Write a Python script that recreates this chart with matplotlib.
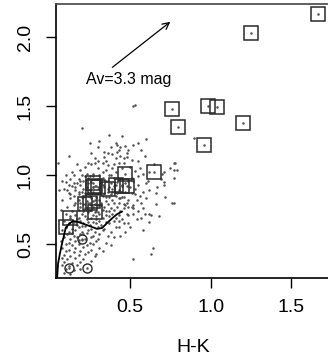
import matplotlib
matplotlib.use("Agg")
import matplotlib.pyplot as plt

plt.rcParams['font.family'] = ['Liberation Sans', 'DejaVu Sans']

# Background field stars (H-K, J-H)
field_pts = [
    (0.52,1.50),(0.53,1.51),(0.20,1.34),(0.12,1.14),(0.05,1.09),
    (0.38,1.20),(0.42,1.22),(0.44,1.20),(0.47,1.21),(0.52,1.22),(0.55,1.23),
    (0.42,1.17),(0.48,1.16),(0.36,1.16),(0.34,1.13),(0.48,1.13),
    (0.24,1.09),(0.26,1.08),(0.28,1.09),(0.30,1.10),(0.33,1.09),(0.35,1.10),(0.34,1.17),(0.39,1.15),
    (0.19,1.04),(0.20,1.00),(0.18,0.97),(0.23,1.01),(0.25,0.99),(0.27,0.99),(0.31,1.00),(0.33,1.02),(0.35,1.04),(0.39,1.05),(0.37,1.00),
    (0.12,0.93),(0.15,0.94),(0.08,0.96),(0.06,0.89),(0.11,0.89),(0.16,0.91),(0.18,0.88),(0.13,0.86),(0.21,0.84),
    (0.41,1.23),(0.43,1.18),(0.49,1.18),(0.44,1.14),(0.51,1.11),(0.55,1.10),(0.43,1.09),(0.46,1.09),
    (0.77,1.09),(0.75,1.05),(0.71,1.02),(0.77,1.04),(0.61,0.96),(0.52,0.96),(0.55,0.93),(0.60,0.94),(0.62,0.89),(0.58,0.88),(0.67,0.91),(0.66,0.87),(0.71,0.93),(0.46,0.84),(0.43,0.83),
    (0.43,0.80),(0.46,0.76),(0.49,0.77),(0.52,0.78),(0.52,0.76),(0.57,0.80),(0.58,0.76),(0.48,0.72),(0.49,0.71),(0.52,0.72),(0.62,0.72),(0.63,0.71),(0.57,0.69),(0.43,0.67),(0.46,0.65),(0.49,0.65),(0.43,0.62),(0.62,0.66),(0.58,0.60),(0.41,0.62),(0.64,0.47),(0.63,0.43),(0.52,0.39),(0.77,0.80),
    (0.90,1.27),(0.78,1.09),(0.79,1.04),(0.77,0.98),(0.70,1.01),(0.71,0.95),(0.76,0.80),
    (0.15,1.00),(0.22,0.99),(0.27,1.01),(0.33,0.98),(0.38,1.00),(0.41,1.02),
    (0.13,0.97),(0.19,0.96),(0.24,0.98),(0.30,0.97),(0.36,0.96),(0.40,0.98),(0.44,0.97),
    (0.10,0.95),(0.17,0.94),(0.21,0.96),(0.26,0.95),(0.32,0.94),(0.35,0.96),(0.42,0.95),(0.47,0.94),
    (0.14,0.92),(0.19,0.93),(0.23,0.91),(0.29,0.92),(0.33,0.93),(0.37,0.91),(0.40,0.92),(0.45,0.93),(0.50,0.91),
    (0.09,0.90),(0.16,0.89),(0.21,0.90),(0.25,0.89),(0.31,0.90),(0.36,0.88),(0.39,0.90),(0.43,0.89),
    (0.12,0.87),(0.18,0.86),(0.22,0.87),(0.27,0.88),(0.30,0.86),(0.34,0.87),(0.38,0.86),(0.42,0.87),(0.47,0.88),(0.53,0.86),
    (0.15,0.85),(0.20,0.84),(0.25,0.85),(0.29,0.84),(0.33,0.85),(0.37,0.84),(0.41,0.85),(0.45,0.84),
    (0.08,0.82),(0.13,0.83),(0.18,0.82),(0.23,0.81),(0.26,0.83),(0.31,0.82),(0.35,0.81),(0.39,0.82),(0.44,0.83),(0.49,0.82),
    (0.16,0.80),(0.21,0.79),(0.24,0.80),(0.28,0.79),(0.32,0.80),(0.36,0.79),(0.40,0.80),(0.46,0.79),
    (0.11,0.77),(0.15,0.78),(0.19,0.77),(0.23,0.76),(0.27,0.77),(0.30,0.78),(0.34,0.77),(0.38,0.76),(0.42,0.77),(0.47,0.78),(0.51,0.77),
    (0.07,0.75),(0.14,0.74),(0.18,0.75),(0.21,0.74),(0.25,0.75),(0.29,0.74),(0.33,0.75),(0.37,0.74),(0.40,0.75),(0.44,0.74),
    (0.10,0.72),(0.16,0.71),(0.20,0.72),(0.24,0.73),(0.27,0.71),(0.31,0.72),(0.35,0.71),(0.39,0.72),(0.43,0.71),
    (0.13,0.70),(0.18,0.69),(0.22,0.70),(0.26,0.69),(0.29,0.70),(0.33,0.69),(0.37,0.70),(0.41,0.69),
    (0.09,0.67),(0.15,0.66),(0.19,0.67),(0.23,0.68),(0.27,0.66),(0.31,0.67),(0.35,0.66),(0.40,0.67),(0.45,0.68),
    (0.12,0.65),(0.17,0.64),(0.21,0.65),(0.25,0.64),(0.29,0.65),(0.32,0.64),(0.37,0.65),
    (0.10,0.62),(0.14,0.61),(0.18,0.62),(0.22,0.63),(0.26,0.61),(0.30,0.62),(0.34,0.61),
    (0.08,0.60),(0.12,0.59),(0.16,0.60),(0.20,0.59),(0.24,0.60),(0.28,0.59),(0.33,0.60),(0.38,0.59),
    (0.11,0.57),(0.15,0.56),(0.19,0.57),(0.23,0.58),(0.27,0.56),(0.31,0.57),
    (0.09,0.55),(0.13,0.54),(0.17,0.55),(0.22,0.54),(0.26,0.55),(0.30,0.54),
    (0.07,0.52),(0.12,0.51),(0.16,0.52),(0.20,0.53),(0.25,0.51),(0.29,0.52),
    (0.10,0.50),(0.14,0.49),(0.18,0.50),(0.23,0.49),(0.27,0.50),
    (0.08,0.47),(0.12,0.46),(0.16,0.47),(0.21,0.48),(0.26,0.46),(0.31,0.47),
    (0.10,0.45),(0.15,0.44),(0.19,0.45),(0.24,0.44),
    (0.09,0.42),(0.13,0.41),(0.18,0.42),(0.22,0.43),(0.28,0.41),
    (0.08,0.40),(0.11,0.39),(0.16,0.40),(0.21,0.39),
    (0.09,0.37),(0.14,0.36),(0.19,0.37),(0.26,0.38),
    (0.08,0.35),(0.12,0.34),(0.17,0.35),
    (0.10,0.32),(0.15,0.31),(0.19,0.32),
    (0.09,0.29),(0.13,0.28),
    (0.36,1.07),(0.40,1.08),(0.45,1.05),(0.50,1.06),(0.53,1.03),(0.56,1.05),(0.41,1.12),(0.46,1.12),
    (0.30,1.05),(0.28,1.12),(0.22,1.06),(0.17,1.08),(0.14,1.02),(0.10,1.00),(0.51,0.98),(0.55,0.99),
    (0.58,1.01),(0.49,0.96),(0.53,0.90),(0.56,0.85),(0.51,0.87),(0.54,0.82),(0.60,0.83),(0.48,0.80),
    (0.55,0.74),(0.59,0.72),(0.54,0.68),(0.50,0.62),(0.47,0.59),(0.44,0.56),(0.40,0.55),(0.36,0.56),
    (0.35,0.51),(0.33,0.45),(0.38,0.49),(0.29,0.43),(0.66,0.79),(0.68,0.70),(0.72,0.84),(0.69,0.97),
    (0.62,1.02),(0.65,1.08),(0.59,1.14),(0.57,1.18),(0.30,1.20),(0.26,1.16),(0.31,1.25),(0.45,1.28),
    (0.37,1.29),(0.60,1.26),(0.25,1.23),
    (0.24,0.87),(0.28,0.82),(0.32,0.78),(0.26,0.78),(0.30,0.73),(0.35,0.74),(0.22,0.76),(0.19,0.80),
    (0.27,0.91),(0.31,0.87),(0.35,0.84),(0.39,0.88),(0.20,0.88),(0.24,0.94),(0.34,0.91),(0.38,0.94),
    (0.29,0.68),(0.24,0.66),(0.20,0.63),(0.17,0.68),(0.14,0.58),(0.18,0.53),(0.21,0.57),
]
field_x = [p[0] for p in field_pts]
field_y = [p[1] for p in field_pts]

# Highlighted sources (squares)
sq_x = [1.67, 1.25, 0.76, 0.985, 1.04, 0.80, 1.20, 0.96, 0.65, 0.47,
        0.27, 0.28, 0.27, 0.30, 0.36, 0.41, 0.45, 0.48,
        0.22, 0.25, 0.27, 0.28, 0.13, 0.10]
sq_y = [2.17, 2.03, 1.48, 1.50, 1.49, 1.35, 1.38, 1.22, 1.02, 1.01,
        0.94, 0.92, 0.91, 0.91, 0.90, 0.93, 0.92, 0.92,
        0.79, 0.80, 0.81, 0.73, 0.69, 0.62]

# Circled sources
circ_x = [0.20, 0.12, 0.23]
circ_y = [0.54, 0.33, 0.33]

# Locus curve
locus_x = [0.047, 0.053, 0.065, 0.078, 0.090, 0.100, 0.120, 0.146, 0.177, 0.214,
           0.250, 0.295, 0.326, 0.357, 0.390, 0.420, 0.450]
locus_y = [0.254, 0.360, 0.435, 0.507, 0.565, 0.616, 0.645, 0.667, 0.660, 0.645,
           0.630, 0.610, 0.616, 0.652, 0.688, 0.717, 0.735]

# Reddening vector
arrow_start = (0.39, 1.78)
arrow_end = (0.75, 2.11)
arrow_label = "Av=3.3 mag"

xticks = [0.5, 1.0, 1.5]
yticks = [0.5, 1.0, 1.5, 2.0]

fig = plt.figure(figsize=(3.28, 3.57), dpi=100)
ax = fig.add_axes([56/328, 1-278/357, (331-56)/328, (278-4)/357])

dot_kw = dict(ls='none', marker='o', ms=1.8, mew=0, color='#505050', zorder=2)
ax.plot(field_x, field_y, **dot_kw)
ax.plot(sq_x, sq_y, **dot_kw)
ax.plot(circ_x, circ_y, **dot_kw)
ax.plot(sq_x, sq_y, 's', ms=9.5, mfc='none', mec='#2a2a2a', mew=1.1, zorder=3)
ax.plot(circ_x, circ_y, 'o', ms=6.5, mfc='none', mec='#2a2a2a', mew=1.0, zorder=3)
ax.plot(locus_x, locus_y, '-', color='black', lw=1.3, zorder=4)

ax.annotate('', xy=arrow_end, xytext=arrow_start,
            arrowprops=dict(arrowstyle='->', lw=0.9, color='black',
                            mutation_scale=12, shrinkA=0, shrinkB=0))
ax.text(0.49, 1.69, arrow_label, ha='center', va='center', fontsize=11.5)

ax.set_xlim(0.040, 1.748)
ax.set_ylim(0.254, 2.239)
ax.set_xticks(xticks)
ax.set_yticks(yticks)
ax.set_xticklabels([f"{v:.1f}" for v in xticks])
ax.set_yticklabels([f"{v:.1f}" for v in yticks], rotation=90, va='center')
ax.tick_params(axis='both', length=7, width=1.0, labelsize=14, direction='out')
ax.tick_params(axis='x', pad=8)
ax.tick_params(axis='y', pad=9)
ax.set_xlabel('H-K', fontsize=14, labelpad=17)
for s in ax.spines.values():
    s.set_linewidth(1.2)
ax.spines['top'].set_color('#444444')

fig.savefig('out.png', dpi=100)
